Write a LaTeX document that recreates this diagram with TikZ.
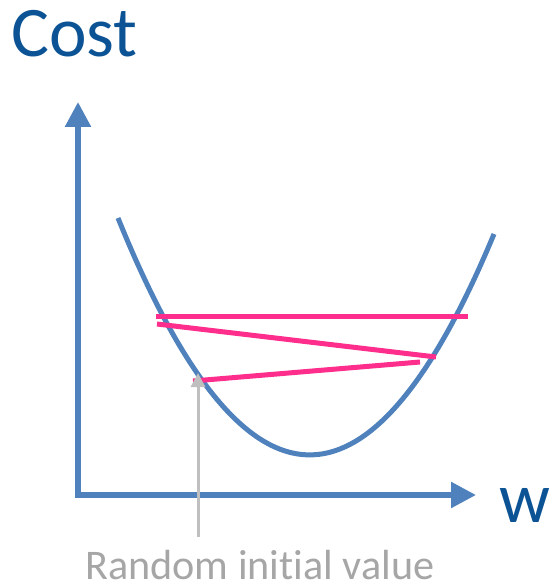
\documentclass[tikz,border=0pt]{standalone}
\usepackage{fontspec}
\setmainfont{Carlito}[Ligatures=NoCommon]
\usetikzlibrary{arrows.meta}
\definecolor{costblue}{HTML}{0B5394}
\definecolor{axisblue}{HTML}{4F81BD}
\definecolor{hotpink}{HTML}{FF2D8C}
\definecolor{pointergray}{HTML}{BFBFBF}
\definecolor{labelgray}{HTML}{A6A6A6}

\begin{document}
\begin{tikzpicture}[
    x=0.02cm, y=-0.02cm,
    axis/.style={
        draw=axisblue,
        line width=0.11cm,
        -{Triangle[length=0.5cm, width=0.5cm]},
    },
    curve/.style={
        draw=axisblue,
        line width=0.1cm,
    },
    jump/.style={
        draw=hotpink,
        line width=0.1cm,
    },
    pointer/.style={
        draw=pointergray,
        line width=0.06cm,
        -{Triangle[length=0.28cm, width=0.28cm]},
    },
    bigtext/.style={
        inner sep=0pt,
        anchor=base west,
        text=costblue,
        font=\fontsize{40.5}{48}\selectfont,
    },
]
\useasboundingbox (0,0) rectangle (550,587);

% --- Axes ---
\coordinate (origin) at (78,495);
\coordinate (ytip) at (78,102);
\coordinate (xtip) at (476,495);
\draw[axis] ([yshift=-0.055cm]origin) -- (ytip);
\draw[axis] ([xshift=-0.055cm]origin) -- (xtip);

\node[bigtext] (costlbl) at (11,57) {Cost};
\node[bigtext] (wlbl) at (499,522) {w};

% --- Cost curve ---
\coordinate (cleft) at (118,218);
\coordinate (cright) at (494,234);
\draw[curve] (cleft) .. controls (243.7,528.3) and (369.3,533.9) .. (cright);

% --- Descent steps ---
\coordinate (s0) at (193,381);
\coordinate (s1) at (420,362);
\coordinate (s2) at (157,324);
\coordinate (s3) at (436,357);
\coordinate (s4) at (156,316);
\coordinate (s5) at (468,316);
\draw[jump] (s0) -- (s1);
\draw[jump] (s2) -- (s3);
\draw[jump] (s4) -- (s5);

% --- Starting point ---
\coordinate (start) at (198,373);
\node[inner sep=0pt, anchor=base west, text=labelgray,
    font=\fontsize{24}{28}\selectfont] (initlbl) at (85,579) {Random initial value};
\coordinate (pfoot) at (198,537);
\draw[pointer] (pfoot) -- (start);

\end{tikzpicture}
\end{document}
